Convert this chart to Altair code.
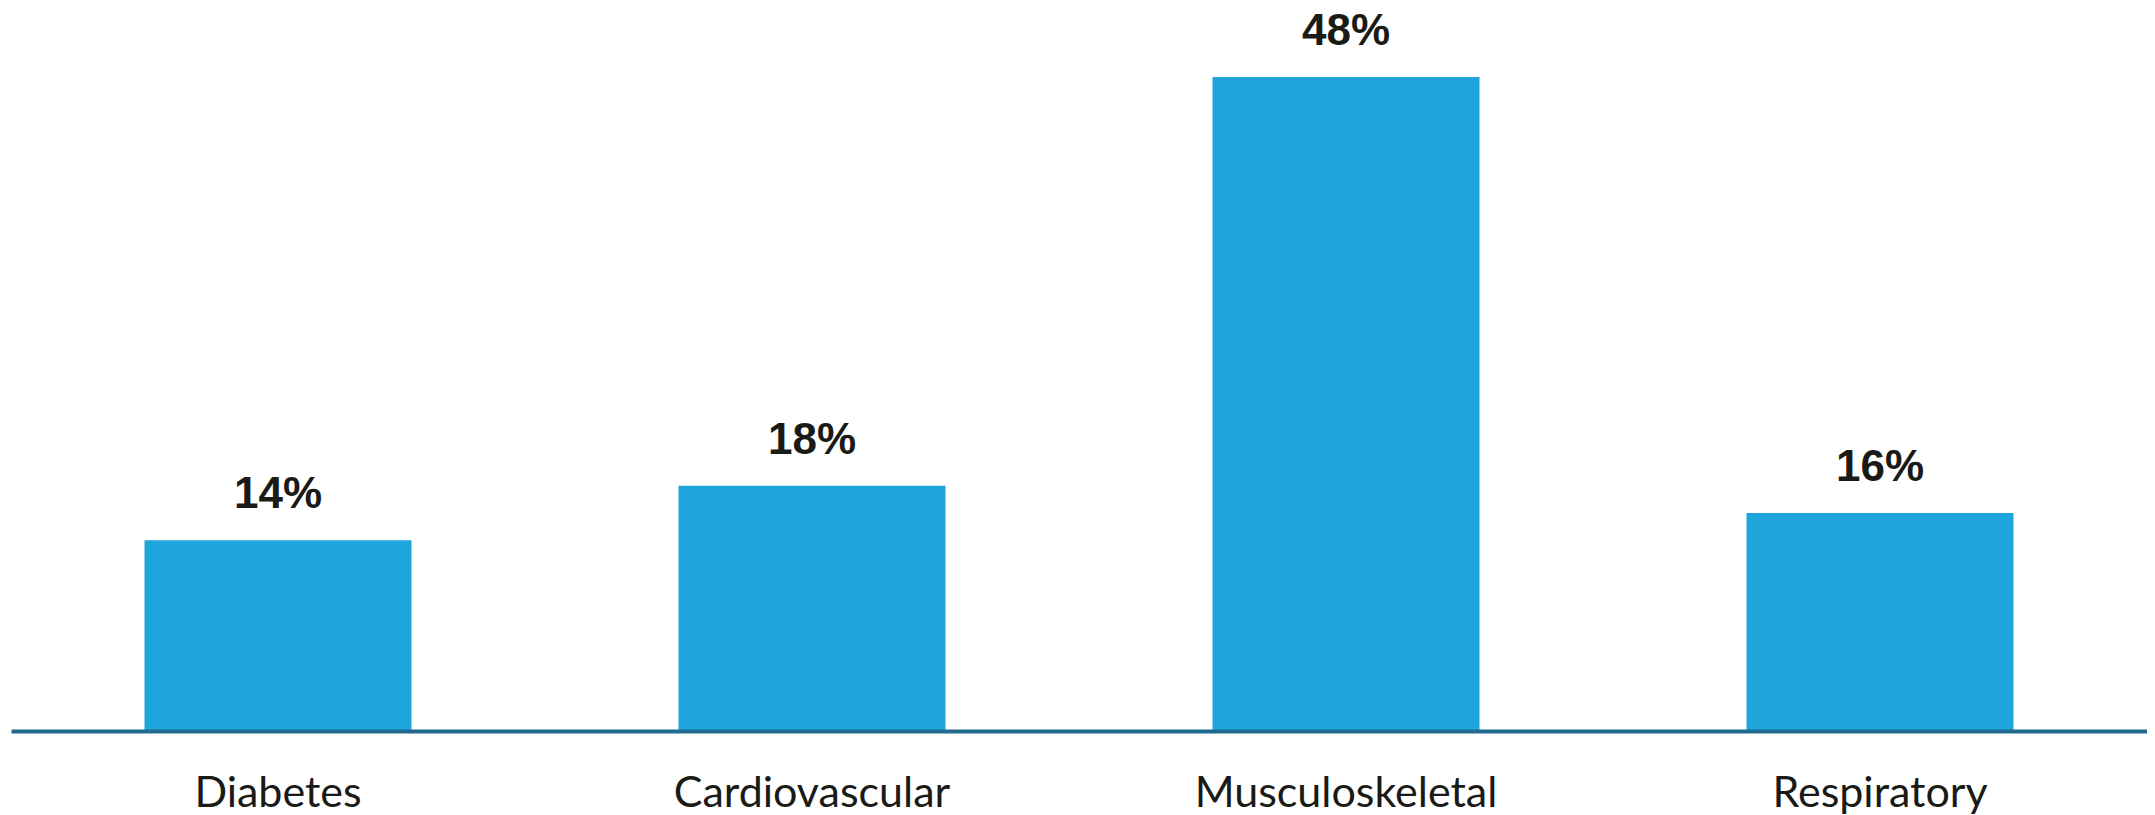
import altair as alt
import pandas as pd

categories = ["Diabetes", "Cardiovascular", "Musculoskeletal", "Respiratory"]
values = [14, 18, 48, 16]
labels = ["14%", "18%", "48%", "16%"]

df = pd.DataFrame({"category": categories, "value": values, "label": labels})

BAR = "#1EA5DB"
AXIS = "#1F6A8E"
TEXT = "#1A1A17"

x = alt.X(
    "category:N",
    sort=categories,
    scale=alt.Scale(paddingInner=0.5, paddingOuter=0.25),
    axis=alt.Axis(
        title=None,
        labelAngle=0,
        ticks=False,
        tickSize=0,
        domain=True,
        domainColor=AXIS,
        domainWidth=4,
        labelFont="Lato",
        labelFontSize=43,
        labelColor=TEXT,
        labelBaseline="alphabetic",
        labelPadding=75,
        labelLimit=0,
        zindex=1,
    ),
)
y = alt.Y("value:Q", scale=alt.Scale(domain=[0, 48], nice=False, zero=True), axis=None)

bars = alt.Chart(df).mark_bar(color=BAR).encode(x=x, y=y)
text = alt.Chart(df).mark_text(
    font="Liberation Sans",
    fontWeight="bold",
    fontSize=44,
    color=TEXT,
    baseline="alphabetic",
    dy=-32,
).encode(x=alt.X("category:N", sort=categories), y=y, text="label:N")

chart = (
    alt.layer(bars, text)
    .properties(
        width=2136,
        height=654,
        background="white",
        autosize=alt.AutoSizeParams(type="none"),
        padding={"left": 3, "top": 69, "right": 0, "bottom": 84},
    )
    .configure_view(stroke=None, strokeWidth=0)
)

chart.save("out.html", embed_options={"renderer": "svg", "actions": False})
